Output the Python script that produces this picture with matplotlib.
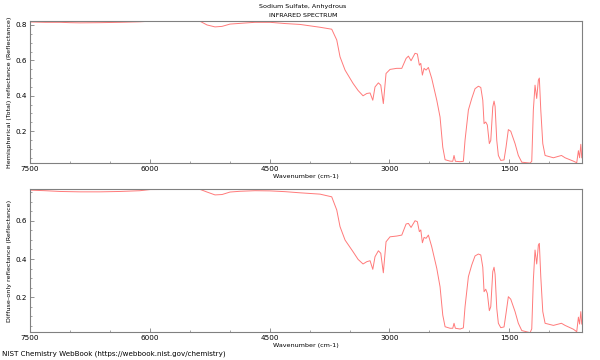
import matplotlib
matplotlib.use("Agg")
import matplotlib.pyplot as plt
from matplotlib.ticker import MultipleLocator

# wavenumbers (cm-1)
wn = [7500, 7312, 7124, 7000, 6874, 6624, 6373, 6123, 5998, 5372, 5284, 5184,
      5096, 4996, 4871, 4683, 4495, 4307, 4120, 3869, 3723, 3660, 3619, 3556,
      3456, 3393, 3331, 3284, 3243, 3209, 3181, 3139, 3109, 3077, 3043, 2993,
      2909, 2846, 2792, 2763, 2730, 2680, 2651, 2626, 2608, 2588, 2567, 2542,
      2513, 2471, 2408, 2367, 2333, 2304, 2242, 2208, 2192, 2175, 2116, 2075,
      2054, 2012, 1970, 1929, 1887, 1857, 1832, 1816, 1795, 1775, 1750, 1732,
      1707, 1691, 1678, 1657, 1637, 1607, 1566, 1541, 1512, 1482, 1428, 1387,
      1344, 1240, 1219, 1199, 1178, 1157, 1136, 1124, 1106, 1081, 1052, 948,
      847, 802, 698, 656, 635, 620, 605, 593]

total = [0.817, 0.815, 0.815, 0.813, 0.812, 0.813, 0.815, 0.818, 0.821, 0.821,
         0.800, 0.789, 0.792, 0.805, 0.809, 0.815, 0.815, 0.808, 0.803, 0.787,
         0.776, 0.715, 0.620, 0.545, 0.470, 0.430, 0.400, 0.413, 0.416, 0.375,
         0.450, 0.473, 0.460, 0.356, 0.526, 0.549, 0.555, 0.555, 0.611, 0.624,
         0.598, 0.640, 0.636, 0.573, 0.583, 0.517, 0.555, 0.545, 0.560, 0.498,
         0.375, 0.280, 0.110, 0.039, 0.031, 0.030, 0.063, 0.030, 0.028, 0.030,
         0.150, 0.320, 0.385, 0.440, 0.454, 0.447, 0.375, 0.243, 0.252, 0.235,
         0.130, 0.148, 0.337, 0.370, 0.340, 0.148, 0.063, 0.035, 0.038, 0.110,
         0.209, 0.200, 0.130, 0.063, 0.025, 0.020, 0.030, 0.320, 0.460, 0.385,
         0.489, 0.500, 0.320, 0.130, 0.063, 0.050, 0.063, 0.050, 0.031, 0.022,
         0.090, 0.050, 0.126, 0.050]

diffuse = [0.760, 0.757, 0.753, 0.752, 0.751, 0.751, 0.753, 0.757, 0.763, 0.764,
           0.750, 0.735, 0.737, 0.750, 0.754, 0.757, 0.756, 0.752, 0.746, 0.739,
           0.725, 0.656, 0.569, 0.499, 0.438, 0.398, 0.374, 0.386, 0.391, 0.346,
           0.412, 0.443, 0.430, 0.328, 0.490, 0.516, 0.520, 0.525, 0.583, 0.586,
           0.565, 0.600, 0.595, 0.543, 0.552, 0.485, 0.513, 0.508, 0.525, 0.464,
           0.351, 0.255, 0.107, 0.046, 0.038, 0.038, 0.064, 0.038, 0.034, 0.040,
           0.151, 0.308, 0.369, 0.416, 0.426, 0.421, 0.357, 0.229, 0.242, 0.220,
           0.130, 0.151, 0.334, 0.357, 0.320, 0.142, 0.064, 0.041, 0.045, 0.116,
           0.203, 0.190, 0.125, 0.064, 0.026, 0.015, 0.035, 0.290, 0.447, 0.374,
           0.473, 0.482, 0.308, 0.125, 0.064, 0.053, 0.064, 0.053, 0.033, 0.020,
           0.096, 0.060, 0.125, 0.060]

LINE = "#ff7a7a"
GREY = "#808080"

fig = plt.figure(figsize=(6, 3.6), dpi=100)
ax1 = fig.add_axes([0.05, 0.547, 0.92, 0.394])
ax2 = fig.add_axes([0.05, 0.077, 0.92, 0.397])


def draw(ax, y, ylim, ylabel):
    ax.plot(wn, y, color=LINE, lw=0.7)
    ax.set_xlim(7500, 590)
    ax.set_ylim(*ylim)
    ax.xaxis.set_major_locator(MultipleLocator(1500))
    ax.xaxis.set_minor_locator(MultipleLocator(500))
    ax.yaxis.set_major_locator(MultipleLocator(0.2))
    ax.yaxis.set_minor_locator(MultipleLocator(0.05))
    ax.tick_params(which="both", direction="in", color=GREY, labelsize=5.2,
                   pad=2, top=False, right=False)
    ax.tick_params(which="major", length=3, width=0.6)
    ax.tick_params(which="minor", length=1.5, width=0.5)
    for s in ax.spines.values():
        s.set_color(GREY)
        s.set_linewidth(0.8)
    ax.set_ylabel(ylabel, fontsize=4.6, labelpad=3)
    ax.set_xlabel("Wavenumber (cm-1)", fontsize=4.6, labelpad=1.5)


draw(ax1, total, (0.02, 0.821), "Hemispherical (Total) reflectance (Reflectance)")
draw(ax2, diffuse, (0.017, 0.764), "Diffuse-only reflectance (Reflectance)")

fig.text(0.505, 0.983, "Sodium Sulfate, Anhydrous", ha="center", va="center",
         fontsize=4.6)
fig.text(0.505, 0.958, "INFRARED SPECTRUM", ha="center", va="center",
         fontsize=4.6)
fig.text(0.003, 0.016, "NIST Chemistry WebBook (https://webbook.nist.gov/chemistry)",
         ha="left", va="center", fontsize=5.1)

fig.savefig("out.png", dpi=100)
